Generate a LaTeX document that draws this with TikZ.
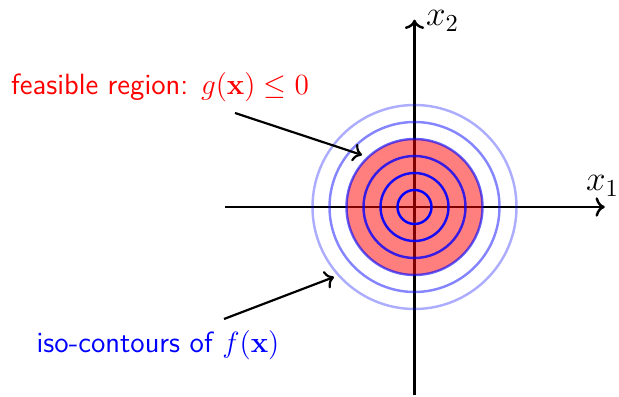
\documentclass[tikz,border=0pt]{standalone}
\usepackage{amsmath}
\usepackage{tikz}
\usetikzlibrary{
  arrows.meta,
  positioning,
  calc
}
\renewcommand{\familydefault}{\sfdefault}

\begin{document}
\begin{tikzpicture}[x=0.41pt, y=0.41pt, every node/.style={font=\large},
    axis/.style={line width=1pt, ->},
    contour/.style={line width=1pt, draw=blue},
    pointer/.style={line width=0.9pt, ->}]
            \useasboundingbox (-414.5,-190) rectangle (204.5,207);

            % Axes
            \coordinate (origin) at (0,0);
            \coordinate (xmin) at (-189.5,0);
            \coordinate (ymin) at (0,-188);
            \node[inner sep=0pt] (xtip) at (192,0) {};
            \node[inner sep=0pt] (ytip) at (0,189) {};
            \draw[axis] (xmin) -- (xtip);
            \draw[axis] (ymin) -- (ytip);
            \node[font=\Large] (xlab) at (188,21) {$x_1$};
            \node[font=\Large, anchor=west] (ylab) at (3,186) {$x_2$};

            % Feasible region
            \fill[red, fill opacity=0.5] (origin) circle (68);

            % Iso-contours
            \foreach \r/\op in {17/1, 34/0.9, 51/0.78, 68/0.62, 85/0.48, 102/0.32}
                \draw[contour, draw opacity=\op] (origin) circle (\r);

            % Labels
            \node[text=red] (feas) at (-254.5,120) {feasible region: $g(\mathbf{x}) \leq 0$};
            \coordinate (feasstart) at (-179.5,94);
            \coordinate (feasend) at (-52.5,52);
            \draw[pointer] (feasstart) -- (feasend);

            \node[text=blue] (iso) at (-256.5,-138) {iso-contours of $f(\mathbf{x})$};
            \coordinate (isostart) at (-190.5,-112);
            \coordinate (isoend) at (-80.5,-70);
            \draw[pointer] (isostart) -- (isoend);
        \end{tikzpicture}
\end{document}
